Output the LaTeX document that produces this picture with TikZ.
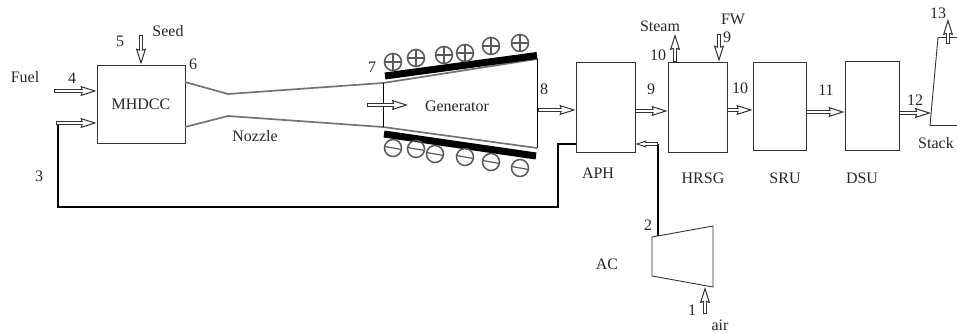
\documentclass[tikz,border=0pt]{standalone}
\usepackage{fontspec}
\setmainfont{Liberation Serif}
\usepackage{xcolor}
\usetikzlibrary{arrows.meta, positioning}

\definecolor{duct}{gray}{0.45}
\definecolor{charge}{gray}{0.35}

\tikzset{
  unit/.style={draw=black!80, line width=0.9pt, inner sep=0pt},
  flow/.style={draw=black!80, line width=4.4pt, -{Stealth[inset=1.5pt, line width=1pt, fill=white, length=16pt, width=10pt]},
    postaction={draw=white, line width=2.4pt, -, shorten >=12pt, shorten <=1pt}},
  smallflow/.style={draw=black!80, line width=3.2pt, -{Stealth[inset=1pt, line width=0.9pt, fill=white, length=11pt, width=7pt]},
    postaction={draw=white, line width=1.4pt, -, shorten >=8pt, shorten <=0.9pt}},
  pipe/.style={line width=2.4pt, black},
  ductwall/.style={line width=1.7pt, duct},
  magnet/.style={line width=7pt, black},
  lbl/.style={font=\fontsize{16}{18}\selectfont, inner sep=0pt, text=black!85},
  chargemark/.style={circle, draw=charge, line width=1.5pt, minimum size=17pt, inner sep=0pt}
}

\begin{document}
\begin{tikzpicture}[x=1pt, y=-1pt]
  \useasboundingbox (0,0) rectangle (957,334);

  % process units
  \node[unit, minimum width=88pt, minimum height=78pt] (mhdcc) at (141,104) {};
  \node[unit, minimum width=59pt, minimum height=90pt] (aph) at (605.5,107) {};
  \node[unit, minimum width=59pt, minimum height=90pt] (hrsg) at (697.5,107) {};
  \node[unit, minimum width=53pt, minimum height=88pt] (sru) at (779.5,106) {};
  \node[unit, minimum width=54pt, minimum height=89pt] (dsu) at (872,105.5) {};

  % compressor and stack
  \coordinate (acnw) at (652,237);
  \coordinate (acne) at (713,226);
  \coordinate (acse) at (713,287);
  \coordinate (acsw) at (652,276);
  \draw[line width=0.9pt, black!80] (acnw) -- (acne) -- (acse) -- (acsw) -- cycle;
  \coordinate (stacksw) at (930,125.5);
  \coordinate (stacknw) at (938,37.5);
  \coordinate (stackne) at (957,37.5);
  \coordinate (stackse) at (957,125.5);
  \draw[line width=0.9pt, black!80] (stackse) -- (stacksw) -- (stacknw) -- (stackne);

  % nozzle and generator channel
  \coordinate (noz1) at (185,82);
  \coordinate (noz2) at (228,94);
  \coordinate (gen1) at (383,83);
  \coordinate (gen2) at (537,59);
  \coordinate (noz3) at (185,127);
  \coordinate (noz4) at (228,116);
  \coordinate (gen3) at (383,127);
  \coordinate (gen4) at (537,148);
  \draw[ductwall] (noz1) -- (noz2) -- (gen1) -- (gen2);
  \draw[ductwall] (noz3) -- (noz4) -- (gen3) -- (gen4);
  \draw[line width=0.9pt, black] (gen1) -- (gen3);
  \draw[line width=0.9pt, black] (gen2) -- (gen4);

  % magnets
  \coordinate (mag1) at (385,76);
  \coordinate (mag2) at (537,55.5);
  \coordinate (mag3) at (384,134);
  \coordinate (mag4) at (536,156);
  \draw[magnet] (mag1) -- (mag2);
  \draw[magnet] (mag3) -- (mag4);

  \foreach \px/\py [count=\i] in {393/62, 416/58, 444/55, 465/53, 491/46, 520/43} {
    \node[chargemark] (plus\i) at (\px,\py) {};
    \draw[charge, line width=1.2pt] (plus\i.north) -- (plus\i.south);
    \draw[charge, line width=1.2pt] (plus\i.west) -- (plus\i.east);
  }
  \foreach \px/\py [count=\i] in {393/148, 416/149, 435/154, 465/157, 491/162, 520/168} {
    \node[chargemark] (minus\i) at (\px,\py) {};
    \draw[charge, line width=1.2pt] (minus\i.170) -- (minus\i.-10);
  }

  % free ends of the streams
  \coordinate (fuelin) at (54,91);
  \coordinate (fuelend) at (mhdcc.west |- fuelin);
  \coordinate (hotin) at (56,123);
  \coordinate (hotend) at (mhdcc.west |- hotin);
  \coordinate (seedin) at (141,35);
  \coordinate (genin) at (367,105);
  \coordinate (genend) at (408,105);
  \coordinate (genout) at (538,110);
  \coordinate (aphin) at (aph.west |- genout);
  \coordinate (aphout) at (635,111);
  \coordinate (hrsgin) at (hrsg.west |- aphout);
  \coordinate (hrsgout) at (727,110);
  \coordinate (sruin) at (sru.west |- hrsgout);
  \coordinate (sruout) at (806,112);
  \coordinate (dsuin) at (dsu.west |- sruout);
  \coordinate (dsuout) at (899,113);
  \coordinate (stackin) at (931,113);
  \coordinate (steamtop) at (675,34);
  \coordinate (steamfoot) at (steamtop |- hrsg.north);
  \coordinate (fwtop) at (719,34);
  \coordinate (fwfoot) at (fwtop |- hrsg.north);
  \coordinate (fluefoot) at (948,44);
  \coordinate (fluetop) at (948,19);
  \coordinate (airin) at (705,314);
  \coordinate (airend) at (705,287);

  % return line into the combustor
  \coordinate (hotbend) at (58,123);
  \coordinate (lowleft) at (58,207);
  \coordinate (lowright) at (558,207);
  \coordinate (aphbend) at (558,144);
  \coordinate (aphhot) at (aph.west |- aphbend);
  \draw[pipe] (hotbend) -- (lowleft) -- (lowright) -- (aphbend) -- (aphhot);

  \draw[flow] (fuelin) -- (fuelend);
  \draw[flow] (hotin) -- (hotend);
  \draw[flow] (seedin) -- (mhdcc.north);
  \draw[flow] (genin) -- (genend);
  \draw[flow] (genout) -- (aphin);
  \draw[flow] (aphout) -- (hrsgin);
  \draw[flow] (hrsgout) -- (sruin);
  \draw[flow] (sruout) -- (dsuin);
  \draw[flow] (dsuout) -- (stackin);
  \draw[flow] (steamfoot) -- (steamtop);
  \draw[flow] (fwtop) -- (fwfoot);
  \draw[flow] (fluefoot) -- (fluetop);
  \draw[flow] (airin) -- (airend);

  % air line from the compressor
  \coordinate (acout) at (658,236);
  \coordinate (acbend) at (658,144);
  \coordinate (aphair) at (aph.east |- acbend);
  \draw[pipe] (acout) -- (acbend);
  \draw[smallflow] (acbend) -- (aphair);

  % labels
  \node[lbl] (fuellbl) at (25,77) {Fuel};
  \node[lbl] (n4) at (72,78) {4};
  \node[lbl] (n5) at (120,41) {5};
  \node[lbl] (seedlbl) at (168,31) {Seed};
  \node[lbl] (n6) at (193,64) {6};
  \node[lbl] at (mhdcc) {MHDCC};
  \node[lbl] (nozzlelbl) at (255,136) {Nozzle};
  \node[lbl] (n3) at (39,176) {3};
  \node[lbl] (n7) at (372,67) {7};
  \node[lbl] (genlbl) at (457,106) {Generator};
  \node[lbl] (n8) at (544,89) {8};
  \node[lbl] (n9) at (651,89) {9};
  \node[lbl] (aphlbl) at (598,173) {APH};
  \node[lbl] (hrsglbl) at (703,178) {HRSG};
  \node[lbl] (srulbl) at (785,178) {SRU};
  \node[lbl] (dsulbl) at (862,178) {DSU};
  \node[lbl] (steamlbl) at (660,26) {Steam};
  \node[lbl] (n10a) at (658,55) {10};
  \node[lbl] (fwlbl) at (733,19) {FW};
  \node[lbl] (n9b) at (727,37) {9};
  \node[lbl] (n10b) at (740,88) {10};
  \node[lbl] (n11) at (826,90) {11};
  \node[lbl] (n12) at (915,100) {12};
  \node[lbl] (n13) at (938,13) {13};
  \node[lbl] (stacklbl) at (936,143) {Stack};
  \node[lbl] (n2) at (648,225) {2};
  \node[lbl] (aclbl) at (607,264) {AC};
  \node[lbl] (n1) at (692,310) {1};
  \node[lbl] (airlbl) at (720,325) {air};
\end{tikzpicture}
\end{document}
